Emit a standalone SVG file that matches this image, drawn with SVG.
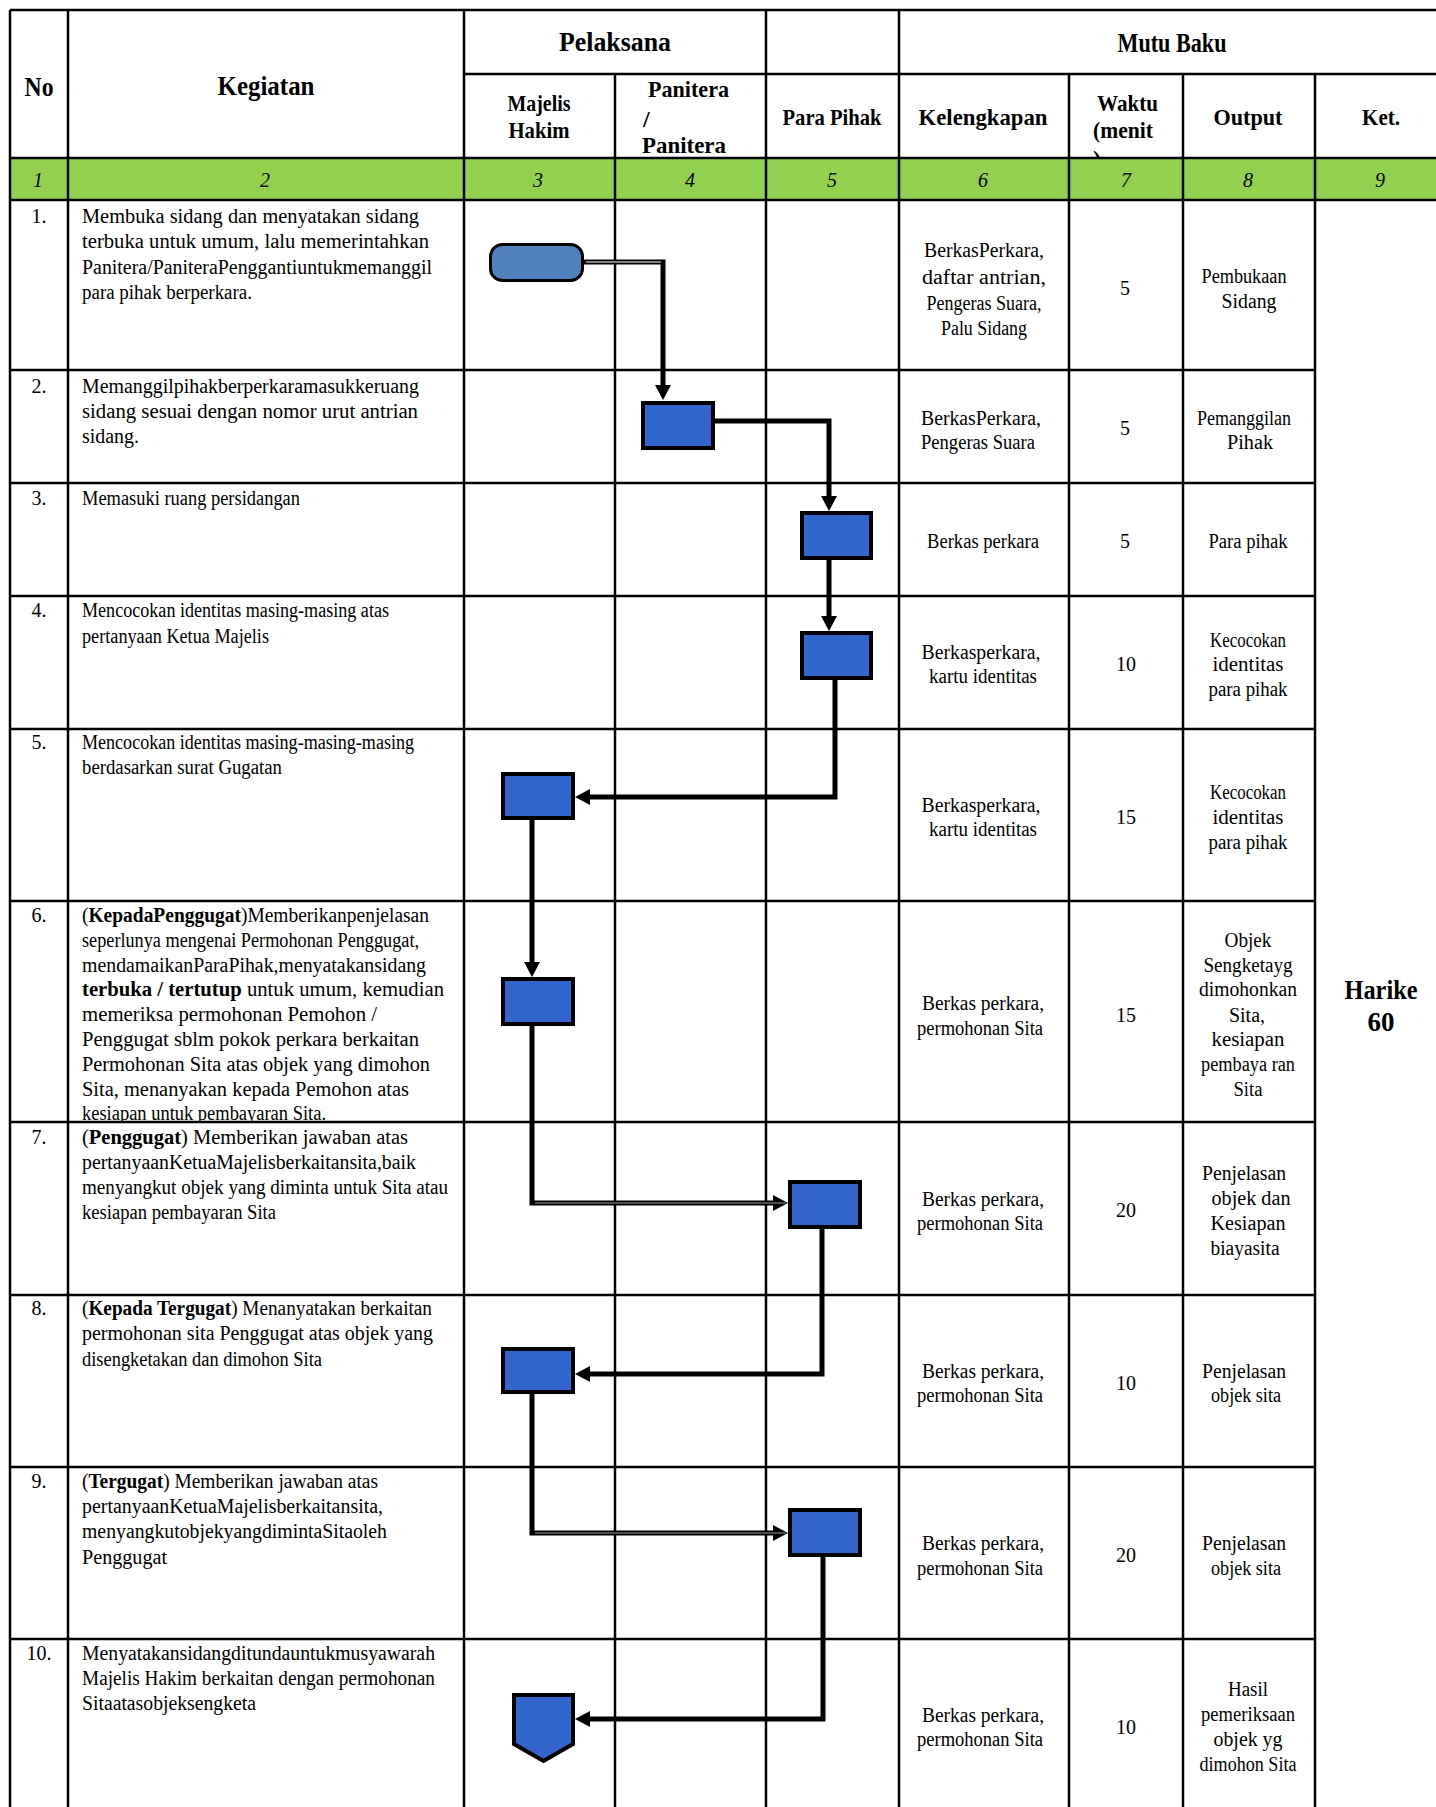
<svg xmlns="http://www.w3.org/2000/svg" width="1436" height="1807" viewBox="0 0 1436 1807">
<style>
text{font-family:"Liberation Serif","Times New Roman",serif;fill:#000}
.b{font-size:20px}
.h{font-size:24px;font-weight:bold}
.hb{font-size:27px;font-weight:bold}
.n{font-size:20px;font-style:italic}
.c{text-anchor:middle}
.bold{font-weight:bold}
.g{stroke:#000;stroke-width:2.5;fill:none}
.box{fill:#3366CC;stroke:#000;stroke-width:4}
.con{stroke:#000;stroke-width:5;fill:none;marker-end:url(#arr)}
.core{stroke-width:1.2;fill:none}
</style>
<defs>
<marker id="arr" markerUnits="userSpaceOnUse" markerWidth="16" markerHeight="16" refX="7" refY="8" orient="auto"><path d="M0,0 L15,8 L0,16 Z" fill="#000"/></marker>
<clipPath id="r6clip"><rect x="68" y="900" width="396" height="221"/></clipPath>
</defs>
<rect x="0" y="0" width="1436" height="1807" fill="#fff"/>

<g id="header">
<text class="hb c" x="39" y="96" textLength="29" lengthAdjust="spacingAndGlyphs">No</text>
<text class="hb c" x="266" y="95" textLength="97" lengthAdjust="spacingAndGlyphs">Kegiatan</text>
<text class="hb c" x="615" y="51" textLength="112" lengthAdjust="spacingAndGlyphs">Pelaksana</text>
<text class="hb c" x="1172" y="52" textLength="109" lengthAdjust="spacingAndGlyphs">Mutu Baku</text>
<text class="h c" x="539" y="111" textLength="63" lengthAdjust="spacingAndGlyphs">Majelis</text>
<text class="h c" x="539" y="138" textLength="61" lengthAdjust="spacingAndGlyphs">Hakim</text>
<text class="h" x="648" y="97" textLength="81" lengthAdjust="spacingAndGlyphs">Panitera</text>
<text class="h" x="643" y="127">/</text>
<text class="h" x="642" y="153" textLength="84" lengthAdjust="spacingAndGlyphs">Panitera</text>
<text class="h c" x="832" y="125" textLength="99" lengthAdjust="spacingAndGlyphs">Para Pihak</text>
<text class="h c" x="983" y="125" textLength="129" lengthAdjust="spacingAndGlyphs">Kelengkapan</text>
<text class="h" x="1097" y="111" textLength="61" lengthAdjust="spacingAndGlyphs">Waktu</text>
<text class="h" x="1093" y="138" textLength="60" lengthAdjust="spacingAndGlyphs">(menit</text>
<text class="h" x="1093" y="167">)</text>
<text class="h c" x="1248" y="125" textLength="69" lengthAdjust="spacingAndGlyphs">Output</text>
<text class="h c" x="1381" y="125" textLength="38" lengthAdjust="spacingAndGlyphs">Ket.</text>
</g>

<rect id="green-row" x="10" y="158" width="1426" height="42" fill="#92D050"/>
<g id="col-numbers">
<text class="n c" x="38" y="187">1</text>
<text class="n c" x="265" y="187">2</text>
<text class="n c" x="538" y="187">3</text>
<text class="n c" x="690" y="187">4</text>
<text class="n c" x="832" y="187">5</text>
<text class="n c" x="983" y="187">6</text>
<text class="n c" x="1126" y="187">7</text>
<text class="n c" x="1248" y="187">8</text>
<text class="n c" x="1380" y="187">9</text>
</g>

<g id="grid" class="g">
<line x1="10" y1="10" x2="1436" y2="10"/>
<line x1="464" y1="74" x2="1436" y2="74"/>
<line x1="10" y1="158" x2="1436" y2="158"/>
<line x1="10" y1="200" x2="1436" y2="200"/>
<line x1="10" y1="370" x2="1315" y2="370"/>
<line x1="10" y1="483" x2="1315" y2="483"/>
<line x1="10" y1="596" x2="1315" y2="596"/>
<line x1="10" y1="729" x2="1315" y2="729"/>
<line x1="10" y1="901" x2="1315" y2="901"/>
<line x1="10" y1="1122" x2="1315" y2="1122"/>
<line x1="10" y1="1295" x2="1315" y2="1295"/>
<line x1="10" y1="1467" x2="1315" y2="1467"/>
<line x1="10" y1="1639" x2="1315" y2="1639"/>
<line x1="10" y1="10" x2="10" y2="1807"/>
<line x1="68" y1="10" x2="68" y2="1807"/>
<line x1="464" y1="10" x2="464" y2="1807"/>
<line x1="615" y1="74" x2="615" y2="1807"/>
<line x1="766" y1="10" x2="766" y2="1807"/>
<line x1="899" y1="10" x2="899" y2="1807"/>
<line x1="1069" y1="74" x2="1069" y2="1807"/>
<line x1="1183" y1="74" x2="1183" y2="1807"/>
<line x1="1315" y1="74" x2="1315" y2="1807"/>
</g>

<g id="row-numbers">
<text class="b c" x="39" y="223">1.</text>
<text class="b c" x="39" y="393">2.</text>
<text class="b c" x="39" y="505">3.</text>
<text class="b c" x="39" y="617">4.</text>
<text class="b c" x="39" y="749">5.</text>
<text class="b c" x="39" y="922">6.</text>
<text class="b c" x="39" y="1144">7.</text>
<text class="b c" x="39" y="1315">8.</text>
<text class="b c" x="39" y="1488">9.</text>
<text class="b c" x="39" y="1660">10.</text>
</g>

<g id="kegiatan">
<text class="b" x="82" y="223" textLength="337" lengthAdjust="spacingAndGlyphs">Membuka sidang dan menyatakan sidang</text>
<text class="b" x="82" y="248" textLength="347" lengthAdjust="spacingAndGlyphs">terbuka untuk umum, lalu memerintahkan</text>
<text class="b" x="82" y="274" textLength="350" lengthAdjust="spacingAndGlyphs">Panitera/PaniteraPenggantiuntukmemanggil</text>
<text class="b" x="82" y="299" textLength="170" lengthAdjust="spacingAndGlyphs">para pihak berperkara.</text>

<text class="b" x="82" y="393" textLength="337" lengthAdjust="spacingAndGlyphs">Memanggilpihakberperkaramasukkeruang</text>
<text class="b" x="82" y="418" textLength="336" lengthAdjust="spacingAndGlyphs">sidang sesuai dengan nomor urut antrian</text>
<text class="b" x="82" y="443" textLength="57" lengthAdjust="spacingAndGlyphs">sidang.</text>

<text class="b" x="82" y="505" textLength="218" lengthAdjust="spacingAndGlyphs">Memasuki ruang persidangan</text>

<text class="b" x="82" y="617" textLength="307" lengthAdjust="spacingAndGlyphs">Mencocokan identitas masing-masing atas</text>
<text class="b" x="82" y="643" textLength="187" lengthAdjust="spacingAndGlyphs">pertanyaan Ketua Majelis</text>

<text class="b" x="82" y="749" textLength="332" lengthAdjust="spacingAndGlyphs">Mencocokan identitas masing-masing-masing</text>
<text class="b" x="82" y="774" textLength="200" lengthAdjust="spacingAndGlyphs">berdasarkan surat Gugatan</text>

<g clip-path="url(#r6clip)">
<text class="b" x="82" y="922" textLength="347" lengthAdjust="spacingAndGlyphs">(<tspan class="bold">KepadaPenggugat</tspan>)Memberikanpenjelasan</text>
<text class="b" x="82" y="947" textLength="337" lengthAdjust="spacingAndGlyphs">seperlunya mengenai Permohonan Penggugat,</text>
<text class="b" x="82" y="972" textLength="344" lengthAdjust="spacingAndGlyphs">mendamaikanParaPihak,menyatakansidang</text>
<text class="b" x="82" y="996" textLength="362" lengthAdjust="spacingAndGlyphs"><tspan class="bold">terbuka / tertutup</tspan> untuk umum, kemudian</text>
<text class="b" x="82" y="1021" textLength="295" lengthAdjust="spacingAndGlyphs">memeriksa permohonan Pemohon /</text>
<text class="b" x="82" y="1046" textLength="337" lengthAdjust="spacingAndGlyphs">Penggugat sblm pokok perkara berkaitan</text>
<text class="b" x="82" y="1071" textLength="348" lengthAdjust="spacingAndGlyphs">Permohonan Sita atas objek yang dimohon</text>
<text class="b" x="82" y="1096" textLength="327" lengthAdjust="spacingAndGlyphs">Sita, menanyakan kepada Pemohon atas</text>
<text class="b" x="82" y="1120" textLength="244" lengthAdjust="spacingAndGlyphs">kesiapan untuk pembayaran Sita.</text>
</g>

<text class="b" x="82" y="1144" textLength="326" lengthAdjust="spacingAndGlyphs">(<tspan class="bold">Penggugat</tspan>) Memberikan jawaban atas</text>
<text class="b" x="82" y="1169" textLength="334" lengthAdjust="spacingAndGlyphs">pertanyaanKetuaMajelisberkaitansita,baik</text>
<text class="b" x="82" y="1194" textLength="366" lengthAdjust="spacingAndGlyphs">menyangkut objek yang diminta untuk Sita atau</text>
<text class="b" x="82" y="1219" textLength="194" lengthAdjust="spacingAndGlyphs">kesiapan pembayaran Sita</text>

<text class="b" x="82" y="1315" textLength="350" lengthAdjust="spacingAndGlyphs">(<tspan class="bold">Kepada  Tergugat</tspan>)  Menanyatakan  berkaitan</text>
<text class="b" x="82" y="1340" textLength="351" lengthAdjust="spacingAndGlyphs">permohonan sita Penggugat atas objek yang</text>
<text class="b" x="82" y="1366" textLength="240" lengthAdjust="spacingAndGlyphs">disengketakan dan dimohon Sita</text>

<text class="b" x="82" y="1488" textLength="296" lengthAdjust="spacingAndGlyphs">(<tspan class="bold">Tergugat</tspan>) Memberikan jawaban atas</text>
<text class="b" x="82" y="1513" textLength="301" lengthAdjust="spacingAndGlyphs">pertanyaanKetuaMajelisberkaitansita,</text>
<text class="b" x="82" y="1538" textLength="305" lengthAdjust="spacingAndGlyphs">menyangkutobjekyangdimintaSitaoleh</text>
<text class="b" x="82" y="1564" textLength="85" lengthAdjust="spacingAndGlyphs">Penggugat</text>

<text class="b" x="82" y="1660" textLength="353" lengthAdjust="spacingAndGlyphs">Menyatakansidangditundauntukmusyawarah</text>
<text class="b" x="82" y="1685" textLength="353" lengthAdjust="spacingAndGlyphs">Majelis Hakim berkaitan dengan permohonan</text>
<text class="b" x="82" y="1710" textLength="174" lengthAdjust="spacingAndGlyphs">Sitaatasobjeksengketa</text>
</g>

<g id="kelengkapan">
<text class="b c" x="984" y="257" textLength="120" lengthAdjust="spacingAndGlyphs">BerkasPerkara,</text>
<text class="b c" x="984" y="284" font-size="22" textLength="124" lengthAdjust="spacingAndGlyphs">daftar antrian,</text>
<text class="b c" x="984" y="310" textLength="115" lengthAdjust="spacingAndGlyphs">Pengeras Suara,</text>
<text class="b c" x="984" y="335" textLength="86" lengthAdjust="spacingAndGlyphs">Palu Sidang</text>

<text class="b" x="921" y="425" textLength="120" lengthAdjust="spacingAndGlyphs">BerkasPerkara,</text>
<text class="b" x="921" y="449" textLength="114" lengthAdjust="spacingAndGlyphs">Pengeras Suara</text>

<text class="b c" x="983" y="548" textLength="112" lengthAdjust="spacingAndGlyphs">Berkas perkara</text>

<text class="b c" x="981" y="659" textLength="119" lengthAdjust="spacingAndGlyphs">Berkasperkara,</text>
<text class="b c" x="983" y="683" textLength="108" lengthAdjust="spacingAndGlyphs">kartu identitas</text>

<text class="b c" x="981" y="812" textLength="119" lengthAdjust="spacingAndGlyphs">Berkasperkara,</text>
<text class="b c" x="983" y="836" textLength="108" lengthAdjust="spacingAndGlyphs">kartu identitas</text>

<text class="b c" x="983" y="1010" textLength="122" lengthAdjust="spacingAndGlyphs">Berkas perkara,</text>
<text class="b c" x="980" y="1035" textLength="126" lengthAdjust="spacingAndGlyphs">permohonan Sita</text>

<text class="b c" x="983" y="1206" textLength="122" lengthAdjust="spacingAndGlyphs">Berkas perkara,</text>
<text class="b c" x="980" y="1230" textLength="126" lengthAdjust="spacingAndGlyphs">permohonan Sita</text>

<text class="b c" x="983" y="1378" textLength="122" lengthAdjust="spacingAndGlyphs">Berkas perkara,</text>
<text class="b c" x="980" y="1402" textLength="126" lengthAdjust="spacingAndGlyphs">permohonan Sita</text>

<text class="b c" x="983" y="1550" textLength="122" lengthAdjust="spacingAndGlyphs">Berkas perkara,</text>
<text class="b c" x="980" y="1575" textLength="126" lengthAdjust="spacingAndGlyphs">permohonan Sita</text>

<text class="b c" x="983" y="1722" textLength="122" lengthAdjust="spacingAndGlyphs">Berkas perkara,</text>
<text class="b c" x="980" y="1746" textLength="126" lengthAdjust="spacingAndGlyphs">permohonan Sita</text>
</g>

<g id="waktu">
<text class="b c" x="1125" y="295">5</text>
<text class="b c" x="1125" y="435">5</text>
<text class="b c" x="1125" y="548">5</text>
<text class="b c" x="1126" y="671">10</text>
<text class="b c" x="1126" y="824">15</text>
<text class="b c" x="1126" y="1022">15</text>
<text class="b c" x="1126" y="1217">20</text>
<text class="b c" x="1126" y="1390">10</text>
<text class="b c" x="1126" y="1562">20</text>
<text class="b c" x="1126" y="1734">10</text>
</g>

<g id="output">
<text class="b c" x="1244" y="283" textLength="85" lengthAdjust="spacingAndGlyphs">Pembukaan</text>
<text class="b c" x="1249" y="308" textLength="55" lengthAdjust="spacingAndGlyphs">Sidang</text>

<text class="b c" x="1244" y="425" textLength="94" lengthAdjust="spacingAndGlyphs">Pemanggilan</text>
<text class="b c" x="1250" y="449" textLength="46" lengthAdjust="spacingAndGlyphs">Pihak</text>

<text class="b c" x="1248" y="548" textLength="79" lengthAdjust="spacingAndGlyphs">Para pihak</text>

<text class="b c" x="1248" y="647" textLength="76" lengthAdjust="spacingAndGlyphs">Kecocokan</text>
<text class="b c" x="1248" y="671" textLength="71" lengthAdjust="spacingAndGlyphs">identitas</text>
<text class="b c" x="1248" y="696" textLength="79" lengthAdjust="spacingAndGlyphs">para pihak</text>

<text class="b c" x="1248" y="799" textLength="76" lengthAdjust="spacingAndGlyphs">Kecocokan</text>
<text class="b c" x="1248" y="824" textLength="71" lengthAdjust="spacingAndGlyphs">identitas</text>
<text class="b c" x="1248" y="849" textLength="79" lengthAdjust="spacingAndGlyphs">para pihak</text>

<text class="b c" x="1248" y="947" textLength="47" lengthAdjust="spacingAndGlyphs">Objek</text>
<text class="b c" x="1248" y="972" textLength="89" lengthAdjust="spacingAndGlyphs">Sengketayg</text>
<text class="b c" x="1248" y="996" textLength="98" lengthAdjust="spacingAndGlyphs">dimohonkan</text>
<text class="b c" x="1247" y="1022" textLength="36" lengthAdjust="spacingAndGlyphs">Sita,</text>
<text class="b c" x="1248" y="1046" textLength="73" lengthAdjust="spacingAndGlyphs">kesiapan</text>
<text class="b c" x="1248" y="1071" textLength="94" lengthAdjust="spacingAndGlyphs">pembaya ran</text>
<text class="b c" x="1248" y="1096" textLength="29" lengthAdjust="spacingAndGlyphs">Sita</text>

<text class="b c" x="1244" y="1180" textLength="84" lengthAdjust="spacingAndGlyphs">Penjelasan</text>
<text class="b c" x="1251" y="1205" textLength="79" lengthAdjust="spacingAndGlyphs">objek dan</text>
<text class="b c" x="1248" y="1230" textLength="75" lengthAdjust="spacingAndGlyphs">Kesiapan</text>
<text class="b c" x="1245" y="1255" textLength="69" lengthAdjust="spacingAndGlyphs">biayasita</text>

<text class="b c" x="1244" y="1378" textLength="84" lengthAdjust="spacingAndGlyphs">Penjelasan</text>
<text class="b c" x="1246" y="1402" textLength="70" lengthAdjust="spacingAndGlyphs">objek sita</text>

<text class="b c" x="1244" y="1550" textLength="84" lengthAdjust="spacingAndGlyphs">Penjelasan</text>
<text class="b c" x="1246" y="1575" textLength="70" lengthAdjust="spacingAndGlyphs">objek sita</text>

<text class="b c" x="1248" y="1696" textLength="40" lengthAdjust="spacingAndGlyphs">Hasil</text>
<text class="b c" x="1248" y="1721" textLength="94" lengthAdjust="spacingAndGlyphs">pemeriksaan</text>
<text class="b c" x="1248" y="1746" textLength="69" lengthAdjust="spacingAndGlyphs">objek yg</text>
<text class="b c" x="1248" y="1771" textLength="97" lengthAdjust="spacingAndGlyphs">dimohon Sita</text>
</g>

<g id="ket">
<text class="hb c" x="1381" y="999" textLength="73" lengthAdjust="spacingAndGlyphs">Harike</text>
<text class="hb c" x="1381" y="1031" textLength="27" lengthAdjust="spacingAndGlyphs">60</text>
</g>

<g id="connectors">
<path class="con" d="M584,262 H663 V392"/>
<path class="con" d="M715,421 H829 V503"/>
<path class="con" d="M829,560 V623"/>
<path class="con" d="M835,680 V797 H583"/>
<path class="con" d="M532,820 V969"/>
<path class="con" d="M532,1026 V1203 H780"/>
<path class="con" d="M822,1229 V1374 H583"/>
<path class="con" d="M532,1394 V1533 H780"/>
<path class="con" d="M823,1557 V1719 H583"/>
<line class="core" x1="586" y1="262" x2="661" y2="262" stroke="#fff"/>
<line class="core" x1="535" y1="1203" x2="786" y2="1203" stroke="#999"/>
<line class="core" x1="535" y1="1533" x2="786" y2="1533" stroke="#999"/>
</g>

<g id="n1"><rect x="490.5" y="244.5" width="92" height="36" rx="12" fill="#4F81BD" stroke="#000" stroke-width="3"/></g>
<g id="n2"><rect class="box" x="643" y="403" width="70" height="45"/></g>
<g id="n3"><rect class="box" x="802" y="513" width="69" height="45"/></g>
<g id="n4"><rect class="box" x="802" y="633" width="69" height="45"/></g>
<g id="n5"><rect class="box" x="503" y="774" width="70" height="44"/></g>
<g id="n6"><rect class="box" x="503" y="979" width="70" height="45"/></g>
<g id="n7"><rect class="box" x="790" y="1182" width="70" height="45"/></g>
<g id="n8"><rect class="box" x="503" y="1349" width="70" height="43"/></g>
<g id="n9"><rect class="box" x="790" y="1510" width="70" height="45"/></g>
<g id="n10"><polygon class="box" points="514,1695 573,1695 573,1744 543.5,1761 514,1744"/></g>
</svg>
